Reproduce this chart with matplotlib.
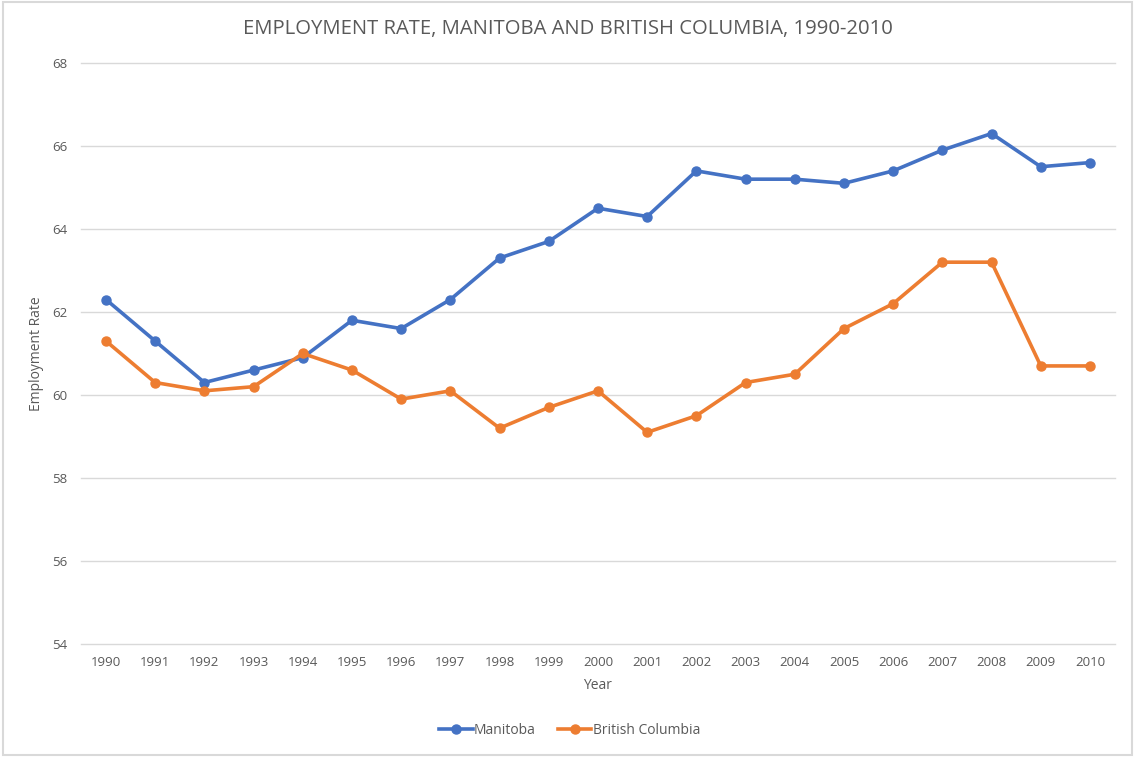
import matplotlib
matplotlib.use("Agg")
import matplotlib.pyplot as plt
from matplotlib.patches import Rectangle

years = list(range(1990, 2011))
manitoba = [62.3, 61.3, 60.3, 60.6, 60.9, 61.8, 61.6, 62.3, 63.3, 63.7, 64.5,
            64.3, 65.4, 65.2, 65.2, 65.1, 65.4, 65.9, 66.3, 65.5, 65.6]
british_columbia = [61.3, 60.3, 60.1, 60.2, 61.0, 60.6, 59.9, 60.1, 59.2, 59.7, 60.1,
                    59.1, 59.5, 60.3, 60.5, 61.6, 62.2, 63.2, 63.2, 60.7, 60.7]

TXT = "#595959"
plt.rcParams["font.family"] = ["Open Sans", "DejaVu Sans"]

fig = plt.figure(figsize=(11.35, 7.57), dpi=100)
ax = fig.add_axes([0.0717, 0.1493, 0.9103, 0.7675])

x = list(range(len(years)))
ax.plot(x, manitoba, color="#4472C4", lw=2.6, marker="o", ms=6.5, label="Manitoba")
ax.plot(x, british_columbia, color="#ED7D31", lw=2.6, marker="o", ms=6.5,
        label="British Columbia")

ax.set_xlim(-0.5, len(years) - 0.5)
ax.set_ylim(54, 68)
ax.set_yticks(range(54, 69, 2))
ax.set_xticks(x)
ax.set_xticklabels([str(y) for y in years])
ax.tick_params(axis="both", length=0, labelsize=9.5, colors=TXT)
ax.tick_params(axis="y", pad=10)
ax.tick_params(axis="x", pad=9)
ax.grid(axis="y", color="#D9D9D9", lw=1)
for gl in ax.get_ygridlines():
    gl.set_clip_on(False)
ax.set_axisbelow(True)
for s in ax.spines.values():
    s.set_visible(False)

ax.set_xlabel("Year", fontsize=10, color=TXT, labelpad=6)
ax.set_ylabel("Employment Rate", fontsize=10, color=TXT, labelpad=6)
fig.suptitle("EMPLOYMENT RATE, MANITOBA AND BRITISH COLUMBIA, 1990-2010",
             fontsize=14.6, color=TXT, y=0.975)

fig.legend(loc="center", bbox_to_anchor=(0.502, 0.035), ncol=2, frameon=False,
           fontsize=10, labelcolor=TXT, handlelength=2.4, handletextpad=0.1,
           columnspacing=1.6)

fig.patches.append(Rectangle((0.003, 0.003), 0.994, 0.994, transform=fig.transFigure,
                             fill=False, edgecolor="#D9D9D9", lw=1.5))

fig.savefig("out.png", dpi=100, facecolor="white")
